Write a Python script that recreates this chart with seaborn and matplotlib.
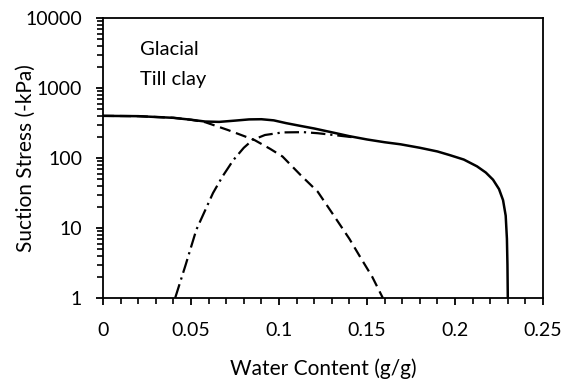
import numpy as np
import pandas as pd
import matplotlib
matplotlib.use("Agg")
import matplotlib.pyplot as plt
import seaborn as sns
from matplotlib.ticker import FixedLocator, FixedFormatter, LogLocator, NullFormatter, MultipleLocator

# Total suction stress (solid)
total_w = [0.0, 0.02, 0.04, 0.05, 0.058, 0.066, 0.075, 0.083, 0.09, 0.097, 0.104, 0.112,
           0.12, 0.131, 0.14, 0.15, 0.16, 0.169, 0.18, 0.19, 0.197, 0.205, 0.2125, 0.2175,
           0.2216, 0.225, 0.2273, 0.2288, 0.2295, 0.2298, 0.23]
total_s = [400, 396, 375, 352, 332, 328, 342, 356, 358, 345, 315, 288,
           264, 230, 205, 184, 168, 157, 140, 124, 110, 95, 76, 62,
           49, 36, 25, 15, 7, 3, 1]

# Adsorption component (dashed)
dash_w = [0.0, 0.02, 0.04, 0.05, 0.058, 0.071, 0.086, 0.095, 0.102, 0.112, 0.122, 0.132,
          0.14, 0.146, 0.153, 0.159]
dash_s = [400, 396, 375, 352, 325, 251, 181, 135, 105, 58, 33, 14,
          7, 3.9, 2.0, 1]

# Capillary component (dash-dot)
cap_w = [0.041, 0.047, 0.053, 0.0625, 0.068, 0.074, 0.08, 0.085, 0.092, 0.102, 0.114, 0.122,
         0.129, 0.136, 0.142]
cap_s = [1, 3.0, 9.4, 31.6, 55, 93, 140, 181, 213, 232, 234, 226,
         216, 206, 198]

yticks = [1, 10, 100, 1000, 10000]
ytick_labels = ["1", "10", "100", "1000", "10000"]
xticks = [0, 0.05, 0.1, 0.15, 0.2, 0.25]
xtick_labels = ["0", "0.05", "0.1", "0.15", "0.2", "0.25"]

sns.set_theme(style="ticks")
plt.rcParams['font.family'] = ['Lato', 'DejaVu Sans']

fig = plt.figure(figsize=(5.66, 3.85), dpi=100)
ax = fig.add_axes([103/566, (385-298)/385, (543-103)/566, (298-18)/385])

df_t = pd.DataFrame({"w": total_w, "s": total_s})
df_d = pd.DataFrame({"w": dash_w, "s": dash_s})
df_c = pd.DataFrame({"w": cap_w, "s": cap_s})

sns.lineplot(data=df_d, x="w", y="s", ax=ax, color="black", lw=1.6, sort=False,
             linestyle=(0, (5, 2.6)))
sns.lineplot(data=df_c, x="w", y="s", ax=ax, color="black", lw=1.6, sort=False,
             linestyle=(0, (6.5, 2.2, 1, 2.2)))
sns.lineplot(data=df_t, x="w", y="s", ax=ax, color="black", lw=1.8, sort=False)

ax.set_yscale("log")
ax.set_xlim(0, 0.25)
ax.set_ylim(1, 10000)

ax.xaxis.set_major_locator(FixedLocator(xticks))
ax.xaxis.set_major_formatter(FixedFormatter(xtick_labels))
ax.xaxis.set_minor_locator(MultipleLocator(0.01))
ax.yaxis.set_major_locator(FixedLocator(yticks))
ax.yaxis.set_major_formatter(FixedFormatter(ytick_labels))
ax.yaxis.set_minor_locator(LogLocator(base=10, subs=np.arange(2, 10)))
ax.yaxis.set_minor_formatter(NullFormatter())

for side in ax.spines.values():
    side.set_color("black")
    side.set_linewidth(1.3)

ax.tick_params(axis="both", which="major", direction="out", length=5, width=1.3,
               color="black", labelsize=14, labelcolor="black")
ax.tick_params(axis="both", which="minor", direction="out", length=4, width=1.2, color="black")
ax.tick_params(axis="x", which="major", pad=12)
ax.tick_params(axis="y", which="major", pad=10)

ax.set_xlabel("Water Content (g/g)", fontsize=15, color="black")
ax.set_ylabel("Suction Stress (-kPa)", fontsize=15, color="black")
ax.xaxis.set_label_coords(0.5, -0.215)
ax.yaxis.set_label_coords(-0.152, 0.5)

ax.text(0.084, 0.889, "Glacial", transform=ax.transAxes, fontsize=14.5, color="black",
        ha="left", va="center")
ax.text(0.084, 0.779, "Till clay", transform=ax.transAxes, fontsize=14.5, color="black",
        ha="left", va="center")

fig.savefig("out.png", dpi=100)
